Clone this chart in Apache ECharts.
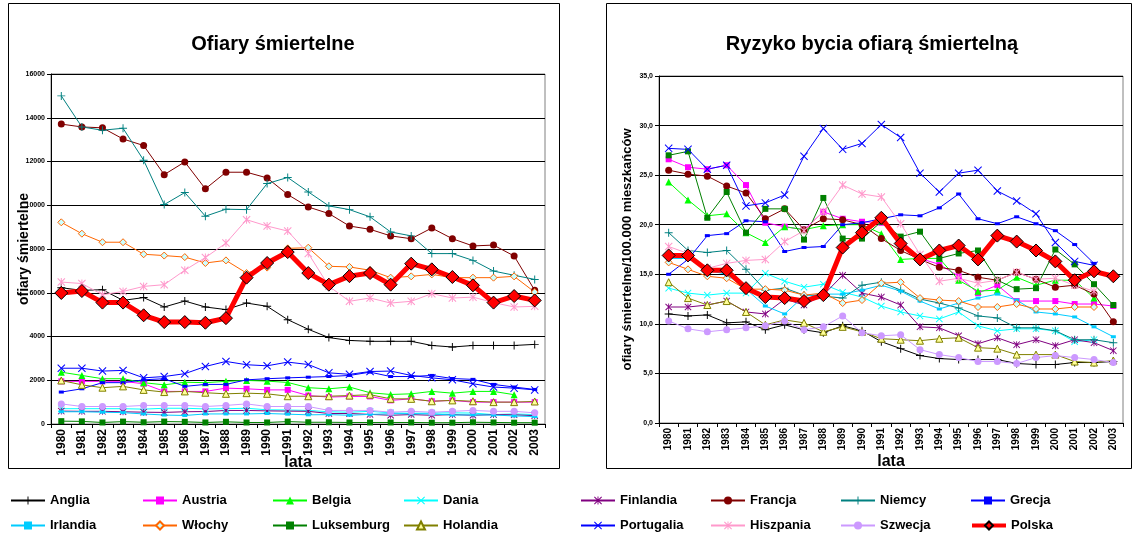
<!DOCTYPE html>
<html>
<head>
<meta charset="utf-8">
<script src="https://cdn.jsdelivr.net/npm/echarts@6/dist/echarts.min.js"></script>
<style>
  html, body { margin: 0; padding: 0; background: #fff; }
  #chart { width: 1134px; height: 534px; }
</style>
</head>
<body>
<div id="chart"></div>
<script>
// lata
const years = ['1980','1981','1982','1983','1984','1985','1986','1987','1988','1989','1990','1991',
  '1992','1993','1994','1995','1996','1997','1998','1999','2000','2001','2002','2003']
const countries = ['Anglia','Austria','Belgia','Dania','Finlandia','Francja','Niemcy','Grecja',
  'Irlandia','Włochy','Luksemburg','Holandia','Portugalia','Hiszpania','Szwecja','Polska']
const leftTicks = [0, 2000, 4000, 6000, 8000, 10000, 12000, 14000, 16000]
const rightTicks = [0, 5, 10, 15, 20, 25, 30, 35]

// ofiary śmiertelne (liczba)
const deathsAnglia = [6230,6110,6140,5650,5780,5350,5620,5350,5230,5530,5380,4770,4330,3950,3820,3780,3780,3780,3590,3520,3590,3590,3590,3640]
const deathsAustria = [1950,1950,1950,1950,1840,1490,1490,1490,1640,1610,1560,1560,1300,1230,1260,1260,1080,1150,1040,1080,1000,1000,1000,1000]
const deathsBelgia = [2370,2220,2070,2070,1890,1790,1910,1890,1950,1990,1960,1900,1660,1610,1690,1430,1350,1380,1490,1410,1490,1490,1340,null]
const deathsDania = [700,700,700,700,680,720,720,690,700,720,650,640,620,560,540,580,510,490,500,510,500,430,460,430]
const deathsFinlandia = [590,580,580,560,540,530,560,570,620,620,600,590,580,480,480,440,400,430,400,430,400,430,420,380]
const deathsFrancja = [13710,13580,13540,13030,12730,11400,11980,10750,11510,11510,11250,10490,9920,9620,9050,8900,8600,8470,8960,8470,8140,8180,7680,6110]
const deathsNiemcy = [15000,13580,13430,13520,12060,10030,10580,9500,9820,9800,10990,11270,10610,9970,9800,9470,8780,8600,7790,7790,7480,6990,6800,6610]
const deathsGrecja = [1460,1610,1890,1890,2020,2070,1720,1810,1810,2020,2070,2110,2140,2170,2220,2370,2170,2170,2220,2080,2040,1810,1690,1580]
const deathsIrlandia = [560,560,540,520,460,410,390,460,460,460,480,450,420,430,400,440,470,470,460,410,420,410,370,340]
const deathsWlochy = [9220,8700,8310,8310,7760,7700,7630,7360,7480,6900,7150,8030,8060,7210,7180,7030,6690,6750,6840,6690,6690,6690,6750,6030]
const deathsLuksemburg = [130,120,70,110,80,110,100,70,100,70,70,110,80,80,70,70,70,70,60,60,80,70,60,60]
const deathsHolandia = [1990,1790,1660,1720,1560,1460,1490,1430,1380,1410,1380,1270,1270,1270,1300,1340,1150,1150,1040,1080,1040,1000,1000,1030]
const deathsPortugalia = [2550,2550,2420,2450,2110,2170,2300,2630,2860,2710,2660,2830,2720,2340,2270,2400,2420,2220,2110,2020,1840,1690,1640,1560]
const deathsHiszpania = [6490,6420,5910,6060,6290,6370,7030,7610,8270,9340,9050,8820,7800,6300,5610,5760,5530,5610,5960,5760,5800,5550,5350,5380]
const deathsSzwecja = [920,800,800,800,850,850,850,800,850,920,800,800,800,620,620,620,540,580,540,580,620,580,580,510]
const deathsPolska = [5990,6080,5550,5550,4970,4660,4660,4630,4840,6690,7360,7860,6900,6370,6760,6900,6370,7330,7070,6720,6340,5550,5850,5650]

// ofiary na 100.000 mieszkańców
const riskAnglia = [11.0,10.8,10.9,10.1,10.2,9.4,9.9,9.4,9.1,9.8,9.3,8.2,7.5,6.8,6.5,6.4,6.4,6.4,6.0,5.9,5.9,6.1,6.1,6.2]
const riskAustria = [26.6,25.8,25.6,26.0,24.0,20.2,19.8,19.5,21.3,20.6,20.3,20.2,18.5,16.6,16.0,14.8,13.1,13.9,12.3,12.3,12.3,12.0,12.0,11.8]
const riskBelgia = [24.3,22.5,20.9,21.1,19.2,18.2,19.8,19.5,19.9,20.0,20.0,19.1,16.5,16.6,16.6,14.4,13.3,13.4,14.7,13.9,14.4,14.4,12.6,null]
const riskDania = [13.6,13.1,12.9,13.1,13.1,15.1,14.3,13.7,14.0,13.2,12.7,11.8,11.2,10.8,10.5,11.2,9.8,9.3,9.5,9.5,9.3,8.2,8.4,null]
const riskFinlandia = [11.7,11.7,11.9,12.3,11.2,11.0,12.5,11.9,12.9,14.9,13.1,12.7,11.9,9.7,9.6,8.8,8.0,8.6,7.9,8.4,7.8,8.4,8.1,7.3]
const riskFrancja = [25.5,25.1,24.9,23.9,23.2,20.6,21.6,19.5,20.6,20.5,20.0,18.6,17.4,16.5,15.7,15.4,14.7,14.4,15.2,14.5,13.7,13.9,13.0,10.2]
const riskNiemcy = [19.2,17.4,17.2,17.4,15.5,13.4,13.6,12.9,12.8,12.6,13.9,14.2,13.4,12.5,12.1,11.6,10.8,10.6,9.6,9.6,9.3,8.4,8.4,8.1]
const riskGrecja = [15.0,16.5,18.9,19.1,20.4,20.3,17.3,17.7,17.8,20.0,20.2,20.6,21.0,20.9,21.7,23.1,20.6,20.1,20.8,20.1,19.4,18.0,16.1,null]
const riskIrlandia = [16.6,16.6,15.4,15.0,13.5,11.8,11.0,12.8,13.0,13.0,13.4,13.9,13.3,12.3,11.5,12.1,12.6,13.0,12.4,11.2,11.0,10.7,9.7,8.7]
const riskWlochy = [16.2,15.5,14.8,14.6,13.5,13.5,13.4,12.9,13.1,12.1,12.4,14.1,14.2,12.6,12.4,12.3,11.7,11.7,12.0,11.5,11.5,11.7,11.7,null]
const riskLuksemburg = [27.0,27.4,20.7,23.3,19.2,21.6,21.6,18.5,22.7,18.6,18.6,20.3,18.8,19.3,16.6,17.1,17.4,14.4,13.5,13.6,17.5,16.0,14.0,11.9]
const riskHolandia = [14.2,12.6,11.9,12.3,11.2,9.9,10.4,10.1,9.2,9.7,9.2,8.5,8.4,8.3,8.5,8.6,7.6,7.5,6.9,6.9,6.9,6.2,6.1,6.3]
const riskPortugalia = [27.7,27.6,25.6,26.0,21.9,22.2,23.0,26.9,29.7,27.6,28.2,30.1,28.8,25.2,23.3,25.2,25.5,23.4,22.4,21.1,18.2,16.3,15.9,null]
const riskHiszpania = [17.8,17.1,15.6,16.1,16.4,16.5,18.3,19.4,21.3,24.0,23.1,22.8,20.1,17.0,14.3,14.6,14.1,14.4,15.2,14.5,14.6,13.9,13.3,null]
const riskSzwecja = [10.3,9.5,9.2,9.4,9.6,9.8,10.3,9.4,9.7,10.8,9.1,8.8,8.9,7.4,6.9,6.6,6.2,6.2,6.0,6.6,6.8,6.6,6.4,6.1]
const riskPolska = [16.9,16.9,15.4,15.4,13.6,12.7,12.6,12.3,12.9,17.7,19.2,20.7,18.1,16.5,17.4,17.9,16.5,18.9,18.3,17.4,16.3,14.4,15.3,14.8]

const deaths = [deathsAnglia, deathsAustria, deathsBelgia, deathsDania, deathsFinlandia, deathsFrancja,
  deathsNiemcy, deathsGrecja, deathsIrlandia, deathsWlochy, deathsLuksemburg, deathsHolandia,
  deathsPortugalia, deathsHiszpania, deathsSzwecja, deathsPolska]
const risk = [riskAnglia, riskAustria, riskBelgia, riskDania, riskFinlandia, riskFrancja,
  riskNiemcy, riskGrecja, riskIrlandia, riskWlochy, riskLuksemburg, riskHolandia,
  riskPortugalia, riskHiszpania, riskSzwecja, riskPolska]

// znaczniki
const PLUS = 'path://M4.4,0H5.6V4.4H10V5.6H5.6V10H4.4V5.6H0V4.4H4.4Z'
const CROSS = 'path://M0,0.9L0.9,0L5,4.1L9.1,0L10,0.9L5.9,5L10,9.1L9.1,10L5,5.9L0.9,10L0,9.1L4.1,5Z'
const STAR = 'path://M0,0.9L0.9,0L5,4.1L9.1,0L10,0.9L5.9,5L10,9.1L9.1,10L5,5.9L0.9,10L0,9.1L4.1,5Z M4.4,0H5.6V10H4.4Z'

const styles = [
  { color: '#000000', symbol: PLUS, size: 8 },
  { color: '#FF00FF', symbol: 'rect', size: 6 },
  { color: '#00FF00', symbol: 'triangle', size: 7 },
  { color: '#00FFFF', symbol: CROSS, size: 7 },
  { color: '#800080', symbol: STAR, size: 7 },
  { color: '#800000', symbol: 'circle', size: 7 },
  { color: '#008080', symbol: PLUS, size: 8 },
  { color: '#0000FF', symbol: 'rect', size: [5, 3] },
  { color: '#00CCFF', symbol: 'rect', size: [5, 3] },
  { color: '#FF6600', fill: '#CCFFFF', symbol: 'diamond', size: 7 },
  { color: '#008000', symbol: 'rect', size: 6 },
  { color: '#808000', fill: '#FFFF99', symbol: 'triangle', size: 7 },
  { color: '#0000FF', symbol: CROSS, size: 8 },
  { color: '#FF99CC', symbol: STAR, size: 8 },
  { color: '#CC99FF', symbol: 'circle', size: 7 },
  { color: '#FF0000', symbol: 'diamond', size: 13, width: 5, border: '#000000' }
]

const font = 'Liberation Sans, Arial, sans-serif'

function makeSeries(values, idx) {
  return countries.map((name, i) => {
    const s = styles[i]
    return {
      name: name,
      type: 'line',
      xAxisIndex: idx,
      yAxisIndex: idx,
      data: values[i],
      symbol: s.symbol,
      symbolSize: s.size,
      showAllSymbol: true,
      z: name === 'Polska' ? 5 : 2,
      lineStyle: { color: s.color, width: s.width || 1 },
      itemStyle: {
        color: s.fill || s.color,
        borderColor: s.border || s.color,
        borderWidth: (s.fill || s.border) ? 1 : 0
      },
      emphasis: { disabled: true },
      animation: false
    }
  })
}

// legenda: 2 wiersze po 8 pozycji
const legendCols = [10, 142, 272, 403, 580, 710, 840, 970]
const rows = [
  ['Anglia','Austria','Belgia','Dania','Finlandia','Francja','Niemcy','Grecja'],
  ['Irlandia','Włochy','Luksemburg','Holandia','Portugalia','Hiszpania','Szwecja','Polska']
]
const legendItems = []
rows.forEach((row, r) => {
  row.forEach((name, c) => {
    const item = {
      data: [name],
      left: legendCols[c],
      top: r === 0 ? 494 : 519,
      padding: 0,
      itemWidth: 34,
      itemHeight: 10,
      itemGap: 0,
      selectedMode: false,
      textStyle: { fontFamily: font, fontWeight: 'bold', fontSize: 13, color: '#000' }
    }
    if (name === 'Polska') item.lineStyle = { width: 4 }
    legendItems.push(item)
  })
})

function xAxisFor(idx, fontSize) {
  return {
    type: 'category',
    gridIndex: idx,
    data: years,
    boundaryGap: true,
    name: 'lata',
    nameLocation: 'middle',
    nameGap: 31,
    nameMoveOverlap: false,
    nameTextStyle: { fontFamily: font, fontWeight: 'bold', fontSize: 16, color: '#000' },
    axisLine: { lineStyle: { color: '#000', width: 1 } },
    axisTick: { show: true, length: 4, lineStyle: { color: '#000' } },
    axisLabel: { rotate: 90, fontFamily: font, fontWeight: 'bold', fontSize: fontSize, color: '#000', margin: 5 },
    splitLine: { show: false }
  }
}

const chart = echarts.init(document.getElementById('chart'), null, { renderer: 'canvas' })
chart.setOption({
  backgroundColor: '#fff',
  animation: false,
  title: [
    { text: 'Ofiary śmiertelne', left: 268, top: 29, textAlign: 'center',
      textStyle: { fontFamily: font, fontWeight: 'bold', fontSize: 20, color: '#000' } },
    { text: 'Ryzyko bycia ofiarą śmiertelną', left: 867, top: 29, textAlign: 'center',
      textStyle: { fontFamily: font, fontWeight: 'bold', fontSize: 20, color: '#000' } }
  ],
  graphic: [
    { type: 'rect', shape: { x: 8.5, y: 3.5, width: 551, height: 465 }, style: { fill: null, stroke: '#000', lineWidth: 1 }, z: 100 },
    { type: 'rect', shape: { x: 606.5, y: 3.5, width: 525, height: 465 }, style: { fill: null, stroke: '#000', lineWidth: 1 }, z: 100 }
  ],
  legend: legendItems,
  grid: [
    { left: 51, top: 74, width: 494, height: 350, show: true, borderColor: '#808080', borderWidth: 1, backgroundColor: '#fff' },
    { left: 659, top: 76, width: 464, height: 347, show: true, borderColor: '#808080', borderWidth: 1, backgroundColor: '#fff' }
  ],
  xAxis: [xAxisFor(0, 12), xAxisFor(1, 10)],
  yAxis: [
    {
      type: 'value', gridIndex: 0, min: leftTicks[0], max: leftTicks[leftTicks.length - 1], interval: 2000,
      name: 'ofiary śmiertelne', nameLocation: 'middle', nameGap: 20, nameMoveOverlap: false,
      nameTextStyle: { fontFamily: font, fontWeight: 'bold', fontSize: 14, color: '#000' },
      axisLine: { show: true, lineStyle: { color: '#000' } },
      axisTick: { show: true, length: 4, lineStyle: { color: '#000' } },
      axisLabel: { fontFamily: font, fontWeight: 'bold', fontSize: 7, color: '#000', margin: 6, formatter: v => String(v) },
      splitLine: { lineStyle: { color: '#000', width: 1 } }
    },
    {
      type: 'value', gridIndex: 1, min: rightTicks[0], max: rightTicks[rightTicks.length - 1], interval: 5,
      name: 'ofiary śmiertelne/100.000 mieszkańców', nameLocation: 'middle', nameGap: 25, nameMoveOverlap: false,
      nameTextStyle: { fontFamily: font, fontWeight: 'bold', fontSize: 13, color: '#000' },
      axisLine: { show: true, lineStyle: { color: '#000' } },
      axisTick: { show: true, length: 4, lineStyle: { color: '#000' } },
      axisLabel: { fontFamily: font, fontWeight: 'bold', fontSize: 7, color: '#000', margin: 6,
        formatter: v => v.toFixed(1).replace('.', ',') },
      splitLine: { lineStyle: { color: '#000', width: 1 } }
    }
  ],
  series: makeSeries(deaths, 0).concat(makeSeries(risk, 1))
})
</script>
</body>
</html>
